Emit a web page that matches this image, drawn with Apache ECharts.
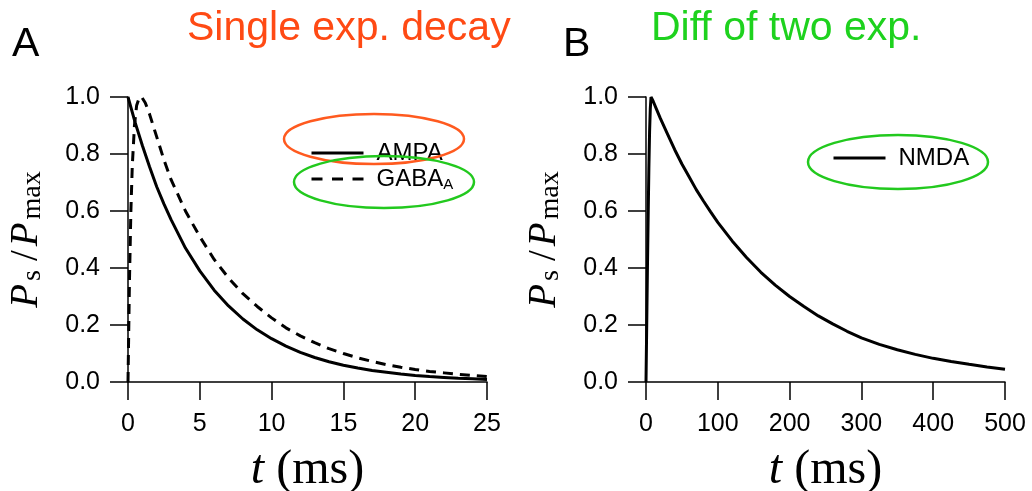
<!DOCTYPE html>
<html>
<head>
<meta charset="utf-8">
<script src="https://cdn.jsdelivr.net/npm/echarts@6/dist/echarts.min.js"></script>
<style>
  html, body { margin: 0; padding: 0; background: #fff; }
  #chart { width: 1032px; height: 491px; }
</style>
</head>
<body>
<div id="chart"></div>
<script>
// values
const ampaTime = [0, 0.5, 1, 1.5, 2, 2.5, 3, 4, 5, 6, 7, 8, 9, 10, 11, 12, 13, 14, 15, 16, 17, 18, 19, 20, 21, 22, 23, 24, 25];
const ampaValue = [1.0, 0.91, 0.83, 0.755, 0.685, 0.625, 0.57, 0.47, 0.39, 0.322, 0.267, 0.221, 0.183, 0.152, 0.126, 0.104, 0.086, 0.071, 0.059, 0.049, 0.04, 0.034, 0.028, 0.023, 0.019, 0.016, 0.013, 0.011, 0.009];

const gabaTime = [0, 0.1, 0.2, 0.3, 0.45, 0.6, 0.8, 0.95, 1.2, 1.5, 2, 2.5, 3, 4, 5, 6, 7, 8, 9, 10, 11, 12, 13, 14, 15, 16, 17, 18, 19, 20, 21, 22, 23, 24, 25];
const gabaValue = [0, 0.35, 0.6, 0.76, 0.9, 0.97, 1.0, 1.0, 0.98, 0.94, 0.86, 0.78, 0.71, 0.6, 0.51, 0.43, 0.365, 0.31, 0.265, 0.225, 0.19, 0.162, 0.138, 0.117, 0.1, 0.085, 0.072, 0.061, 0.052, 0.044, 0.037, 0.032, 0.027, 0.023, 0.019];

const nmdaTime = [0, 1, 2, 3, 4, 5, 6, 7, 10, 15, 20, 30, 40, 50, 60, 70, 80, 90, 100, 120, 140, 160, 180, 200, 220, 240, 260, 280, 300, 325, 350, 375, 400, 425, 450, 475, 500];
const nmdaValue = [0, 0.2, 0.4, 0.58, 0.75, 0.88, 0.96, 1.0, 0.985, 0.955, 0.925, 0.87, 0.815, 0.765, 0.72, 0.675, 0.635, 0.597, 0.56, 0.495, 0.437, 0.385, 0.34, 0.30, 0.265, 0.232, 0.204, 0.178, 0.155, 0.132, 0.113, 0.097, 0.083, 0.072, 0.062, 0.053, 0.045];

const yTicks = { min: 0, max: 1, interval: 0.2 };
const leftX = { min: 0, max: 25, interval: 5 };
const rightX = { min: 0, max: 500, interval: 100 };

const SANS = "'Liberation Sans', Arial, sans-serif";
const SERIF = "'Liberation Serif', 'Times New Roman', serif";

const zip = (xs, ys) => xs.map((x, i) => [x, ys[i]]);

const axisLine = { lineStyle: { color: "#000", width: 1.5 } };
const axisTick = { length: 18, lineStyle: { color: "#000", width: 1.5 } };

function xAxis(idx, range) {
  return {
    type: "value",
    gridIndex: idx,
    min: range.min,
    max: range.max,
    interval: range.interval,
    splitLine: { show: false },
    axisLine: axisLine,
    axisTick: axisTick,
    axisLabel: { color: "#000", fontSize: 25, fontFamily: SANS, margin: 30 },
    name: "{i|t} (ms)",
    nameLocation: "middle",
    nameGap: 64,
    nameTextStyle: {
      color: "#000", fontSize: 48, fontFamily: SERIF,
      rich: { i: { fontSize: 48, fontFamily: SERIF, fontStyle: "italic", color: "#000" } }
    }
  };
}

function yAxis(idx) {
  return {
    type: "value",
    gridIndex: idx,
    min: yTicks.min,
    max: yTicks.max,
    interval: yTicks.interval,
    splitLine: { show: false },
    axisLine: Object.assign({ show: true }, axisLine),
    axisTick: Object.assign({ show: true }, axisTick),
    axisLabel: { color: "#000", fontSize: 25, fontFamily: SANS, margin: 28, formatter: v => v.toFixed(1) },
    name: "{i|P}{s1|s}{n|/}{i|P}{s2|max}",
    nameLocation: "middle",
    nameGap: 81,
    nameTextStyle: {
      color: "#000",
      rich: {
        i: { fontSize: 39, lineHeight: 40, fontFamily: SERIF, fontStyle: "italic", color: "#000" },
        n: { fontSize: 39, lineHeight: 40, fontFamily: SERIF, color: "#000", padding: [0, 4, 0, 4] },
        s1: { fontSize: 28, lineHeight: 16, verticalAlign: "bottom", fontFamily: SERIF, color: "#000", padding: [0, 5, 0, 3] },
        s2: { fontSize: 28, lineHeight: 16, verticalAlign: "bottom", fontFamily: SERIF, color: "#000", padding: [0, 0, 0, 3] }
      }
    }
  };
}

const legendText = {
  color: "#000", fontSize: 24, fontFamily: SANS, lineHeight: 26, padding: [0, 0, 0, 8],
  rich: { sub: { fontSize: 15, lineHeight: 8, verticalAlign: "bottom", fontFamily: SANS, color: "#000" } }
};

const legendBase = {
  orient: "vertical",
  padding: 0,
  itemWidth: 52, itemHeight: 14, itemGap: 0,
  itemStyle: { opacity: 0 },
  lineStyle: { width: 3 },
  textStyle: legendText
};

const option = {
  backgroundColor: "#fff",
  animation: false,
  grid: [
    { left: 128, right: 545, top: 97, bottom: 109, outerBoundsMode: "none" },
    { left: 646, right: 27, top: 97, bottom: 109, outerBoundsMode: "none" }
  ],
  xAxis: [xAxis(0, leftX), xAxis(1, rightX)],
  yAxis: [yAxis(0), yAxis(1)],
  legend: [
    Object.assign({}, legendBase, {
      data: ["AMPA", { name: "GABA_A", lineStyle: { type: [11, 9.5] } }],
      left: 310, top: 140,
      formatter: n => (n === "GABA_A" ? "GABA{sub|A}" : n)
    }),
    Object.assign({}, legendBase, {
      data: ["NMDA"],
      left: 832, top: 145
    })
  ],
  series: [
    {
      name: "AMPA", type: "line", xAxisIndex: 0, yAxisIndex: 0,
      symbol: "none", data: zip(ampaTime, ampaValue),
      lineStyle: { color: "#000", width: 3 }, itemStyle: { color: "#000" }
    },
    {
      name: "GABA_A", type: "line", xAxisIndex: 0, yAxisIndex: 0,
      symbol: "none", data: zip(gabaTime, gabaValue),
      lineStyle: { color: "#000", width: 3, type: [10, 7] }, itemStyle: { color: "#000" }
    },
    {
      name: "NMDA", type: "line", xAxisIndex: 1, yAxisIndex: 1,
      symbol: "none", data: zip(nmdaTime, nmdaValue),
      lineStyle: { color: "#000", width: 3 }, itemStyle: { color: "#000" }
    }
  ],
  graphic: [
    { type: "text", left: 12, top: 24, style: { text: "A", fontSize: 41, fontFamily: SANS, fill: "#000" } },
    { type: "text", left: 563, top: 24, style: { text: "B", fontSize: 41, fontFamily: SANS, fill: "#000" } },
    { type: "text", left: 187, top: 8, style: { text: "Single exp. decay", fontSize: 41, fontFamily: SANS, fill: "#ff4a14" } },
    { type: "text", left: 651, top: 8, style: { text: "Diff of two exp.", fontSize: 41, fontFamily: SANS, fill: "#1ed21e" } },
    { type: "ellipse", z: 100, shape: { cx: 374, cy: 139, rx: 90, ry: 25 }, style: { fill: "none", stroke: "#ff5a1f", lineWidth: 2.5 } },
    { type: "ellipse", z: 100, shape: { cx: 384, cy: 182, rx: 90, ry: 26 }, style: { fill: "none", stroke: "#22c91e", lineWidth: 2.5 } },
    { type: "ellipse", z: 100, shape: { cx: 898, cy: 162, rx: 90, ry: 27 }, style: { fill: "none", stroke: "#22c91e", lineWidth: 2.5 } }
  ]
};

const chart = echarts.init(document.getElementById("chart"));
chart.setOption(option);
</script>
</body>
</html>
